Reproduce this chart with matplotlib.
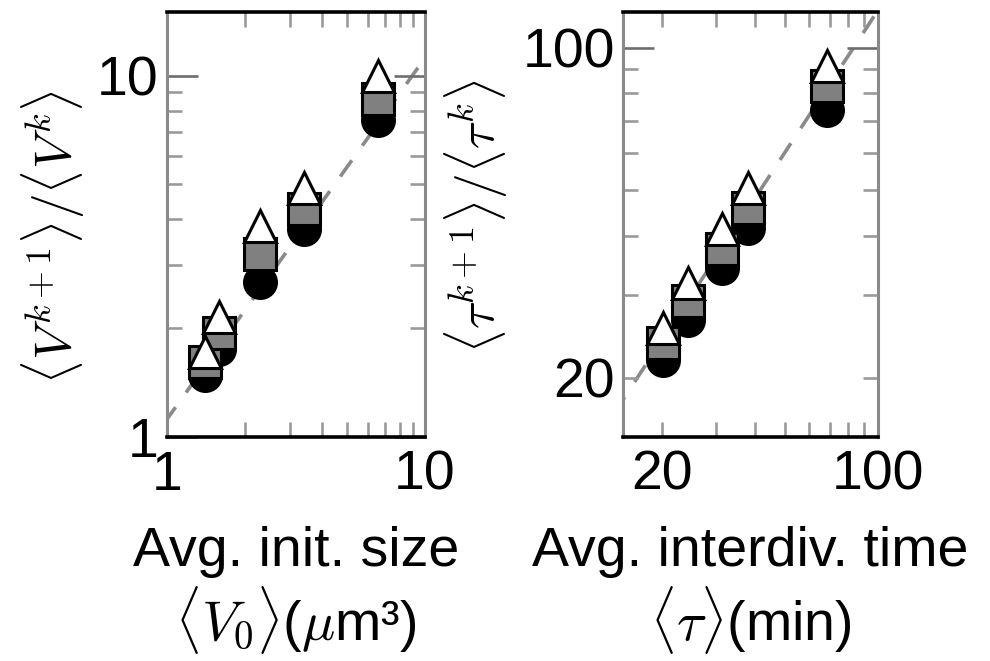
import matplotlib
matplotlib.use("Agg")
import matplotlib.pyplot as plt
from matplotlib.ticker import FixedLocator, FixedFormatter, NullFormatter

plt.rcParams['font.family'] = ['Liberation Sans', 'DejaVu Sans']
plt.rcParams['mathtext.fontset'] = 'cm'

# ---- data (left panel: cell size) ----
v0 = [1.40, 1.59, 2.29, 3.40, 6.57]
v_circle = [1.48, 1.75, 2.69, 3.76, 7.54]
v_square = [1.61, 1.94, 3.20, 4.28, 8.62]
v_triangle = [1.72, 2.15, 3.84, 4.90, 10.0]
v_line_factor = 1.12

# ---- data (right panel: interdivision time) ----
tau0 = [20.2, 24.3, 31.4, 38.1, 68.3]
t_circle = [21.8, 26.5, 34.2, 41.6, 73.9]
t_square = [23.7, 29.1, 37.5, 45.8, 83.1]
t_triangle = [25.5, 31.8, 41.4, 50.5, 91.6]
t_line_factor = 1.2

left_xticks = [1, 10]
left_xlabels = ['1', '10']
left_yticks = [1, 10]
left_ylabels = ['1', '10']
right_minor = [20, 30, 40, 50, 60, 70, 80, 90]
right_minor_labels = ['20', '', '', '', '', '', '', '']
right_major = [100]
right_major_labels = ['100']

FS = 40
fig = plt.figure(figsize=(9.9, 6.61), dpi=100)
axL = fig.add_axes([167/990, 1 - 437/661, 258/990, 425/661])
axR = fig.add_axes([623/990, 1 - 437/661, 255/990, 425/661])

MS = 23
MEW = 2.2


def draw(ax, x, yc, ys, yt, fac, lo, hi):
    ax.set_xscale('log')
    ax.set_yscale('log')
    ax.plot([lo, hi], [lo * fac, hi * fac], color='#8a8a8a', lw=2.6,
            linestyle=(0, (5.5, 5)), zorder=1)
    ax.plot(x, yc, 'o', ms=MS, mfc='black', mec='black', mew=MEW, ls='none', zorder=2)
    ax.plot(x, ys, 's', ms=MS, mfc='#808080', mec='black', mew=MEW, ls='none', zorder=3)
    ax.plot(x, yt, '^', ms=MS, mfc='white', mec='black', mew=MEW, ls='none', zorder=4)
    for s in ['left', 'right']:
        ax.spines[s].set_color('#8a8a8a')
        ax.spines[s].set_linewidth(2.2)
    for s in ['top', 'bottom']:
        ax.spines[s].set_color('black')
        ax.spines[s].set_linewidth(2.6)
    ax.tick_params(which='both', direction='in', top=True, right=True, labelsize=FS)
    ax.tick_params(which='major', length=22.5, width=1.9, color='#6e6e6e')
    ax.tick_params(which='minor', length=11, width=1.9, color='#9a9a9a')
    ax.tick_params(axis='x', which='both', pad=9)
    ax.tick_params(axis='y', which='both', pad=6)


draw(axL, v0, v_circle, v_square, v_triangle, v_line_factor, 0.8, 12)
axL.set_xlim(1, 10)
axL.set_ylim(1, 15)
axL.xaxis.set_major_locator(FixedLocator(left_xticks))
axL.xaxis.set_major_formatter(FixedFormatter(left_xlabels))
axL.xaxis.set_minor_locator(FixedLocator([2, 3, 4, 5, 6, 7, 8, 9]))
axL.xaxis.set_minor_formatter(NullFormatter())
axL.yaxis.set_major_locator(FixedLocator(left_yticks))
axL.yaxis.set_major_formatter(FixedFormatter(left_ylabels))
axL.yaxis.set_minor_locator(FixedLocator([2, 3, 4, 5, 6, 7, 8, 9]))
axL.yaxis.set_minor_formatter(NullFormatter())

draw(axR, tau0, t_circle, t_square, t_triangle, t_line_factor, 12, 110)
axR.set_xlim(15, 100)
axR.set_ylim(15, 119)
for axis in (axR.xaxis, axR.yaxis):
    axis.set_major_locator(FixedLocator(right_major))
    axis.set_major_formatter(FixedFormatter(right_major_labels))
    axis.set_minor_locator(FixedLocator(right_minor))
    axis.set_minor_formatter(FixedFormatter(right_minor_labels))

axL.set_xlabel('Avg. init. size\n' + r'$\langle V_0\rangle$($\mu$m³)', fontsize=FS,
               linespacing=1.1, labelpad=18)
axR.set_xlabel('Avg. interdiv. time\n' + r'$\langle\tau\rangle$(min)', fontsize=FS,
               linespacing=1.1, labelpad=18)
axL.set_ylabel(r'$\langle V^{k+1}\rangle/\langle V^k\rangle$', fontsize=37)
axR.set_ylabel(r'$\langle \tau^{k+1}\rangle/\langle \tau^k\rangle$', fontsize=37)
axL.yaxis.set_label_coords(-0.31, 0.47)
axR.yaxis.set_label_coords(-0.443, 0.52)

fig.savefig('out.png', dpi=100)
